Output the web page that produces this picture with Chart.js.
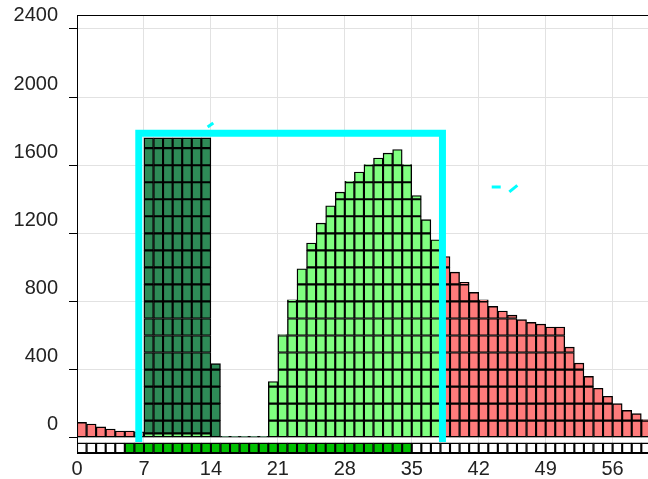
<!DOCTYPE html>
<html>
<head>
<meta charset="utf-8">
<script src="https://cdn.jsdelivr.net/npm/chart.js@4/dist/chart.umd.min.js"></script>
<style>
  html, body { margin: 0; padding: 0; background: #fff; }
  #chartCanvas { display: block; }
</style>
</head>
<body>
<canvas id="chartCanvas" width="648" height="479"></canvas>
<script>
"use strict";

// tick labels
const xTicks = [0, 7, 14, 21, 28, 35, 42, 49, 56];
const yTicks = [0, 400, 800, 1200, 1600, 2000, 2400];

// red bars, days 0-6 and 38-59
const redStart = [90, 80, 63, 51, 39, 39, 35];
const redEnd = [1064, 972, 912, 853, 810, 771, 744, 720, 693, 677, 667, 650, 650,
  532, 438, 360, 290, 243, 200, 160, 141, 106];

// light green, small base under the dark block (days 7-13) and the hump (days 20-37)
const lightBase = [25, 25, 25, 25, 25, 25, 25];
const lightHump = [330, 605, 810, 992, 1143, 1260, 1362, 1442, 1505, 1560, 1603,
  1642, 1671, 1692, 1603, 1422, 1280, 1162];

// dark green, days 7-19
const darkValues = [1760, 1760, 1760, 1760, 1760, 1760, 1760, 435, 8, 8, 8, 8, 8];

// bottom strip: green from day 5 to day 34
const stripDays = 60;
const stripGreenFrom = 5;
const stripGreenTo = 34;

// cyan frame and little cyan marks
const frameX = [6.46, 6.46, 38.21, 38.21];
const frameY = [-25, 1787, 1787, -25];
const markA = [[13.66, 1824], [14.25, 1848]];
const markB = [[43.36, 1472], [44.3, 1472]];
const markC = [[45.2, 1443], [46.04, 1482]];

const CELL = 100;

function segs(start, vals, base) {
  return vals.map((v, i) => ({ day: start + i, lo: base ? base(i) : 0, hi: v }));
}

// split each bar in 100-unit cells so it gets the brick look
function cellSets(list, color) {
  const sets = [];
  const top = Math.max(...list.map(s => s.hi));
  for (let lo = 0; lo < top; lo += CELL) {
    const hi = lo + CELL;
    const data = list
      .filter(s => s.hi > lo && s.lo < hi)
      .map(s => ({ x: s.day + 0.5, y: [Math.max(s.lo, lo), Math.min(s.hi, hi)] }));
    if (data.length) {
      sets.push({
        type: "bar",
        xAxisID: "x",
        data,
        backgroundColor: color,
        borderColor: "#000",
        borderWidth: 1.4,
        borderSkipped: false,
        order: 2
      });
    }
  }
  return sets;
}

function cyanLine(points, width) {
  return {
    type: "line",
    xAxisID: "x",
    data: points.map(p => ({ x: p[0], y: p[1] })),
    borderColor: "#00ffff",
    borderWidth: width,
    borderJoinStyle: "miter",
    pointRadius: 0,
    fill: false,
    tension: 0,
    order: 0
  };
}

const redSegs = segs(0, redStart).concat(segs(38, redEnd));
const lightSegs = segs(7, lightBase).concat(segs(20, lightHump));
const darkSegs = segs(7, darkValues, i => lightBase[i] || 0);

const stripData = [];
const stripColors = [];
for (let d = 0; d < stripDays; d++) {
  stripData.push({ x: d + 0.5, y: [-90, -31] });
  stripColors.push(d >= stripGreenFrom && d <= stripGreenTo ? "#00c000" : "#ffffff");
}

const datasets = [
  cyanLine(frameX.map((x, i) => [x, frameY[i]]), 7),
  cyanLine(markA, 3),
  cyanLine(markB, 3),
  cyanLine(markC, 3),
  {
    type: "bar",
    xAxisID: "x",
    data: stripData,
    backgroundColor: stripColors,
    borderColor: "#000",
    borderWidth: 1.4,
    borderSkipped: false,
    order: 2
  }
]
  .concat(cellSets(redSegs, "#ff7b7b"))
  .concat(cellSets(lightSegs, "#80ff80"))
  .concat(cellSets(darkSegs, "#2e8b57"));

const tickFont = { family: "'Liberation Sans', Arial, sans-serif", size: 20 };

document.addEventListener("DOMContentLoaded", () => {
  const ctx = document.querySelector("#chartCanvas").getContext("2d");

  new Chart(ctx, {
    type: "bar",
    data: { datasets },
    options: {
      responsive: false,
      animation: false,
      devicePixelRatio: 1,
      layout: { padding: 0 },
      datasets: {
        bar: { grouped: false, barPercentage: 1, categoryPercentage: 1 }
      },
      plugins: {
        legend: { display: false },
        tooltip: { enabled: false }
      },
      scales: {
        x: {
          type: "linear",
          position: "bottom",
          offset: false,
          min: 0,
          max: 59.7,
          grid: { color: "#e2e2e2", drawTicks: false, offset: false },
          border: { color: "#000", width: 1 },
          ticks: { padding: 4, color: "#222", font: tickFont, callback: v => String(v) },
          afterBuildTicks: s => { s.ticks = xTicks.map(v => ({ value: v })); },
          afterFit: s => { s.height = 26; }
        },
        x2: {
          type: "linear",
          position: "top",
          offset: false,
          grid: { display: false },
          ticks: { display: false },
          border: { color: "#000", width: 1 },
          afterFit: s => { s.height = 15; }
        },
        y: {
          min: -90,
          max: 2482,
          grid: { color: "#e2e2e2", tickLength: 8, tickColor: "#000" },
          border: { color: "#000", width: 1 },
          ticks: { padding: 11, labelOffset: -13, color: "#222", font: tickFont, callback: v => String(v) },
          afterBuildTicks: s => { s.ticks = yTicks.map(v => ({ value: v })); },
          afterFit: s => {
            s.width = 77;
            s.paddingTop = 0;
            s.paddingBottom = 0;
          }
        }
      }
    }
  });
});
</script>
</body>
</html>
